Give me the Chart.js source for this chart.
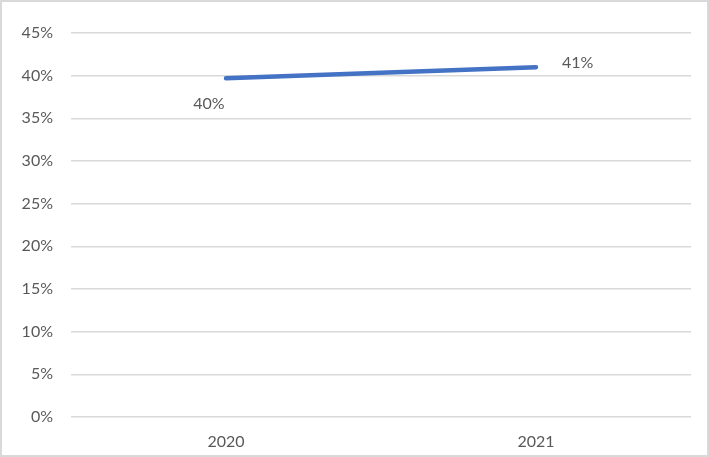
<!DOCTYPE html>
<html>
<head>
<meta charset="utf-8">
<script src="https://cdn.jsdelivr.net/npm/chart.js@4"></script>
<style>
  body { margin: 0; background: #fff; }
  #wrap { position: relative; width: 709px; height: 457px; }
  #frame { position: absolute; left: 0; top: 0; width: 709px; height: 457px; box-sizing: border-box; border: 2px solid #d9d9d9; pointer-events: none; }
</style>
</head>
<body>
<div id="wrap">
  <canvas id="chart" width="709" height="457"></canvas>
  <div id="frame"></div>
</div>
<script>
const years = ['2020', '2021'];
const shareValues = [0.397, 0.41];
const yTicks = [0, 0.05, 0.1, 0.15, 0.2, 0.25, 0.3, 0.35, 0.4, 0.45];

const textColor = '#595959';
const fontFamily = 'Lato, "Noto Sans", sans-serif';

//draws the "40%" / "41%" labels next to each point (Excel style)
const pointLabels = {
  id: 'pointLabels',
  afterDatasetsDraw(chart) {
    const ctx = chart.ctx;
    const pts = chart.getDatasetMeta(0).data;
    ctx.save();
    ctx.font = '16px ' + fontFamily;
    ctx.fillStyle = textColor;
    ctx.textBaseline = 'middle';
    pts.forEach((p, i) => {
      const txt = Math.round(shareValues[i] * 100) + '%';
      if (i === 0) {
        ctx.textAlign = 'center';
        ctx.fillText(txt, p.x - 17, p.y + 26);
      } else {
        ctx.textAlign = 'left';
        ctx.fillText(txt, p.x + 26, p.y - 4);
      }
    });
    ctx.restore();
  }
};

new Chart(document.getElementById('chart'), {
  type: 'line',
  data: {
    labels: years,
    datasets: [{
      data: shareValues,
      borderColor: '#4472C4',
      borderWidth: 4.5,
      borderCapStyle: 'round',
      pointRadius: 0,
      tension: 0,
      fill: false
    }]
  },
  options: {
    responsive: false,
    animation: false,
    layout: { padding: { top: 33, right: 18, bottom: 0, left: 0 } },
    plugins: { legend: { display: false }, tooltip: { enabled: false } },
    scales: {
      x: {
        offset: true,
        grid: { display: false, drawTicks: false },
        border: { display: false },
        ticks: { color: textColor, font: { family: fontFamily, size: 16 }, padding: 15 },
        afterFit(axis) { axis.height = 40; }
      },
      y: {
        min: 0,
        max: 0.45,
        afterBuildTicks(axis) { axis.ticks = yTicks.map(v => ({ value: v })); },
        grid: { color: '#d9d9d9', lineWidth: 1.5, drawTicks: false },
        border: { display: false },
        ticks: {
          color: textColor,
          font: { family: fontFamily, size: 16 },
          padding: 18,
          callback: v => Math.round(v * 100) + '%'
        },
        afterFit(axis) { axis.width = 71; }
      }
    }
  },
  plugins: [pointLabels]
});
</script>
</body>
</html>
